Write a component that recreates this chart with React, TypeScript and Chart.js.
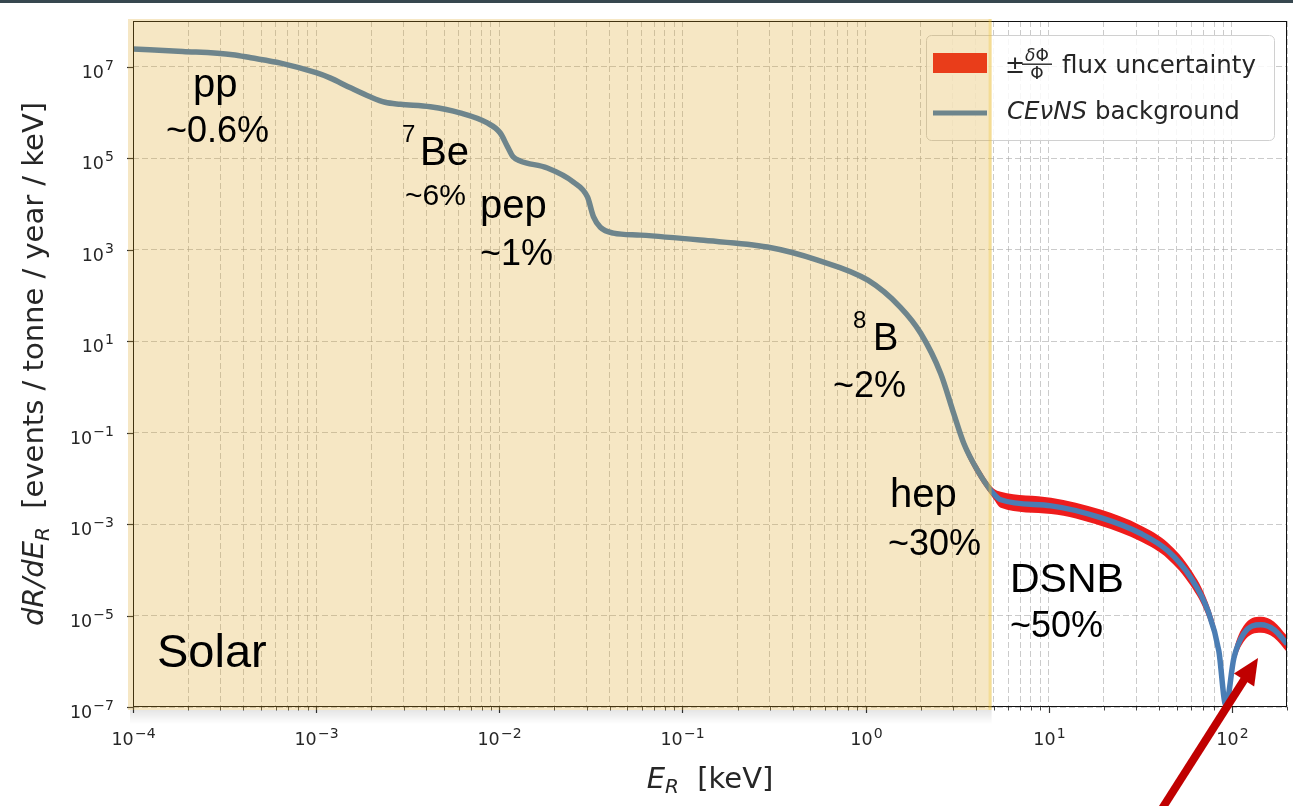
import React, { useEffect, useRef } from "react";
import { Chart, registerables } from "chart.js";

Chart.register(...registerables);

// Recoil energy grid (keV) and CEvNS background rate (events / tonne / year / keV)
const energies = [
  1.0e-4, 1.87e-4, 3.5e-4, 4.4e-4, 6.4e-4, 1.0e-3, 1.19e-3, 1.53e-3, 1.97e-3, 2.38e-3,
  2.88e-3, 4.2e-3, 6.1e-3, 8.6e-3, 1.01e-2, 1.11e-2, 1.19e-2, 1.3e-2, 1.83e-2, 2.54e-2,
  3.03e-2, 3.27e-2, 3.56e-2, 4.2e-2, 5.9e-2, 0.125, 0.291, 0.547, 1.03, 1.55,
  2.0, 2.57, 3.03, 3.44, 4.09, 5.0, 5.47, 10.3, 19.2, 31.8,
  44.7, 59.7, 74.0, 84.9, 92.7, 102.6, 116, 144, 170, 200,
];

const rates = [
  2.44e7, 2.16e7, 1.83e7, 1.57e7, 1.2e7, 7.4e6, 5.7e6, 3.5e6, 2.2e6, 1.67e6,
  1.51e6, 1.33e6, 9.8e5, 5.9e5, 3.6e5, 1.77e5, 1.07e5, 8.7e4, 6.1e4, 3.0e4,
  1.42e4, 5.2e3, 3.1e3, 2.3e3, 2.08e3, 1.62e3, 1.14e3, 590, 215, 55,
  14.9, 1.97, 0.26, 0.058, 0.0148, 4.6e-3, 3.4e-3, 2.5e-3, 1.38e-3, 6.2e-4,
  2.6e-4, 6.7e-5, 1.27e-5, 1.68e-6, 1.1e-7, 1.18e-6, 4.0e-6, 6.3e-6, 4.9e-6, 2.4e-6,
];

// Fractional flux uncertainty of the dominant source at each energy
// pp 0.6%, 7Be 6%, pep 1%, 8B 2%, hep 30%, DSNB 50%
const fluxUncertainty = [
  0.006, 0.006, 0.006, 0.006, 0.006, 0.006, 0.006, 0.006, 0.006, 0.06,
  0.06, 0.06, 0.06, 0.06, 0.06, 0.06, 0.06, 0.01, 0.01, 0.01,
  0.01, 0.01, 0.01, 0.02, 0.02, 0.02, 0.02, 0.02, 0.02, 0.02,
  0.02, 0.02, 0.3, 0.3, 0.3, 0.3, 0.5, 0.5, 0.5, 0.5,
  0.5, 0.5, 0.5, 0.5, 0.5, 0.5, 0.5, 0.5, 0.5, 0.5,
];

// Axis ranges and ticks
const X_MIN = 1e-4;
const X_MAX = 200;
const Y_MIN = 1e-7;
const Y_MAX = 1e8;
const SOLAR_EDGE_KEV = 5;
const xTickValues: number[] = [];
for (let n = -4; n <= 1; n++) for (let k = 1; k <= 9; k++) xTickValues.push(k * Math.pow(10, n));
xTickValues.push(100, 200);
const yTickExponents = [-7, -5, -3, -1, 1, 3, 5, 7];

// Source labels written on the plot
const sourceLabels = [
  { text: "pp", x: 193, y: 97, size: 40 },
  { text: "~0.6%", x: 166, y: 142, size: 36 },
  { text: "7", x: 402, y: 142, size: 24 },
  { text: "Be", x: 420, y: 165, size: 40 },
  { text: "~6%", x: 405, y: 205, size: 30 },
  { text: "pep", x: 480, y: 218, size: 40 },
  { text: "~1%", x: 480, y: 265, size: 36 },
  { text: "8", x: 853, y: 328, size: 24 },
  { text: "B", x: 873, y: 350, size: 38 },
  { text: "~2%", x: 833, y: 397, size: 36 },
  { text: "hep", x: 890, y: 507, size: 40 },
  { text: "~30%", x: 888, y: 555, size: 36 },
  { text: "DSNB", x: 1010, y: 592, size: 41 },
  { text: "~50%", x: 1010, y: 637, size: 36 },
  { text: "Solar", x: 157, y: 667, size: 47 },
];

const LINE_COLOR = "#4a7db4";
const BAND_COLOR = "#ee1c1c";
const GRID_COLOR = "rgba(160,160,160,0.55)";
const TEXT_COLOR = "#262626";
const DJV = '"DejaVu Sans"';
const SANS = '"Liberation Sans", Arial, sans-serif';

const pts = (ys: number[]) => energies.map((e, i) => ({ x: e, y: ys[i] }));
const upper = rates.map((r, i) => r * (1 + fluxUncertainty[i]));
const lower = rates.map((r, i) => r / (1 + fluxUncertainty[i]));

function drawParts(
  ctx: CanvasRenderingContext2D,
  parts: { t: string; font: string; dy: number }[],
  x: number,
  y: number,
  align: "center" | "right" | "left"
) {
  let total = 0;
  const widths = parts.map((p) => {
    ctx.font = p.font;
    const w = ctx.measureText(p.t).width;
    total += w;
    return w;
  });
  let cx = align === "center" ? x - total / 2 : align === "right" ? x - total : x;
  ctx.textAlign = "left";
  ctx.textBaseline = "alphabetic";
  parts.forEach((p, i) => {
    ctx.font = p.font;
    ctx.fillText(p.t, cx, y + p.dy);
    cx += widths[i];
  });
}

function powParts(exp: number) {
  const sup = exp < 0 ? "\u2212" + -exp : String(exp);
  return [
    { t: "10", font: `17.5px ${DJV}`, dy: 0 },
    { t: "\u2009", font: `6px ${DJV}`, dy: 0 },
    { t: sup, font: `14px ${DJV}`, dy: -7.5 },
  ];
}

const decorations = {
  id: "decorations",
  afterDraw(chart: any) {
    const { ctx, chartArea: a } = chart;
    const xs = chart.scales.x;
    const ys = chart.scales.y;
    ctx.save();

    // tick marks and labels
    ctx.strokeStyle = "#333";
    ctx.fillStyle = TEXT_COLOR;
    for (const t of xs.ticks) {
      const px = Math.round(xs.getPixelForValue(t.value)) + 0.5;
      const lg = Math.log10(t.value);
      const major = Math.abs(lg - Math.round(lg)) < 1e-9;
      ctx.lineWidth = major ? 1.2 : 0.9;
      ctx.beginPath();
      ctx.moveTo(px, a.bottom);
      ctx.lineTo(px, a.bottom + (major ? 6 : 3.5));
      ctx.stroke();
      if (major) drawParts(ctx, powParts(Math.round(lg)), px, a.bottom + 38, "center");
    }
    for (const t of ys.ticks) {
      const py = Math.round(ys.getPixelForValue(t.value)) + 0.5;
      ctx.lineWidth = 1.2;
      ctx.beginPath();
      ctx.moveTo(a.left - 6, py);
      ctx.lineTo(a.left, py);
      ctx.stroke();
      drawParts(ctx, powParts(Math.round(Math.log10(t.value))), a.left - 19, py + 10, "right");
    }

    // frame
    ctx.strokeStyle = "#111";
    ctx.lineWidth = 1;
    ctx.strokeRect(a.left + 0.5, a.top + 0.5, a.right - a.left - 1, a.bottom - a.top - 1);

    // axis titles
    ctx.fillStyle = TEXT_COLOR;
    drawParts(
      ctx,
      [
        { t: "E", font: `italic 29px ${DJV}`, dy: 0 },
        { t: "R", font: `italic 20px ${DJV}`, dy: 5 },
        { t: "  [keV]", font: `29px ${DJV}`, dy: 0 },
      ],
      (a.left + a.right) / 2,
      788,
      "center"
    );
    ctx.save();
    ctx.translate(43, (a.top + a.bottom) / 2);
    ctx.rotate(-Math.PI / 2);
    drawParts(
      ctx,
      [
        { t: "dR/dE", font: `italic 29px ${DJV}`, dy: 0 },
        { t: "R", font: `italic 20px ${DJV}`, dy: 6 },
        { t: "  [events / tonne / year / keV]", font: `29px ${DJV}`, dy: 0 },
      ],
      0,
      0,
      "center"
    );
    ctx.restore();

    // legend
    ctx.beginPath();
    ctx.roundRect(926.5, 35.5, 348, 105, 5);
    ctx.fillStyle = "rgba(255,255,255,0.85)";
    ctx.fill();
    ctx.strokeStyle = "#d0d0d0";
    ctx.lineWidth = 1;
    ctx.stroke();
    ctx.fillStyle = BAND_COLOR;
    ctx.fillRect(933, 53, 54, 20);
    ctx.strokeStyle = LINE_COLOR;
    ctx.lineWidth = 5;
    ctx.beginPath();
    ctx.moveTo(933, 113);
    ctx.lineTo(987, 113);
    ctx.stroke();
    ctx.fillStyle = TEXT_COLOR;
    ctx.textBaseline = "alphabetic";
    ctx.textAlign = "left";
    ctx.font = `24px ${DJV}`;
    ctx.fillText("\u00b1", 1005, 73);
    drawParts(
      ctx,
      [
        { t: "\u03b4", font: `italic 17px ${DJV}`, dy: 0 },
        { t: "\u03a6", font: `17px ${DJV}`, dy: 0 },
      ],
      1037,
      61,
      "center"
    );
    ctx.fillStyle = TEXT_COLOR;
    ctx.fillRect(1022, 63.5, 30, 1.4);
    ctx.font = `17px ${DJV}`;
    ctx.textAlign = "center";
    ctx.fillText("\u03a6", 1037, 79);
    ctx.textAlign = "left";
    ctx.font = `24.5px ${DJV}`;
    ctx.fillText("flux uncertainty", 1062, 73);
    drawParts(
      ctx,
      [
        { t: "CE\u03bdNS", font: `italic 24.5px ${DJV}`, dy: 0 },
        { t: " background", font: `24.5px ${DJV}`, dy: 0 },
      ],
      1007,
      119,
      "left"
    );

    // solar region shading
    const sx0 = xs.getPixelForValue(X_MIN) - 5;
    const sx1 = xs.getPixelForValue(SOLAR_EDGE_KEV) - 2;
    const sy0 = a.top - 2;
    const sy1 = a.bottom + 3;
    const sh = ctx.createLinearGradient(0, sy1, 0, sy1 + 14);
    sh.addColorStop(0, "rgba(0,0,0,0.10)");
    sh.addColorStop(1, "rgba(0,0,0,0)");
    ctx.fillStyle = sh;
    ctx.fillRect(sx0 + 2, sy1, sx1 - sx0 - 2, 14);
    ctx.fillStyle = "rgba(218,160,20,0.25)";
    ctx.fillRect(sx0, sy0, sx1 - sx0, sy1 - sy0);
    ctx.fillStyle = "rgba(240,200,60,0.35)";
    ctx.fillRect(sx1 - 3, sy0, 3, sy1 - sy0);

    // source labels
    ctx.fillStyle = "#000";
    ctx.textAlign = "left";
    ctx.textBaseline = "alphabetic";
    for (const l of sourceLabels) {
      ctx.font = `${l.size}px ${SANS}`;
      ctx.fillText(l.text, l.x, l.y);
    }

    // arrow pointing at the DSNB bump
    const tip = { x: 1258, y: 658 };
    const tail = { x: 1158, y: 815 };
    const dx = tip.x - tail.x;
    const dy = tip.y - tail.y;
    const len = Math.hypot(dx, dy);
    const ux = dx / len;
    const uy = dy / len;
    const headLen = 26;
    const headW = 12;
    const bx = tip.x - ux * headLen;
    const by = tip.y - uy * headLen;
    ctx.strokeStyle = "#c00000";
    ctx.fillStyle = "#c00000";
    ctx.lineWidth = 8;
    ctx.beginPath();
    ctx.moveTo(tail.x, tail.y);
    ctx.lineTo(bx + ux * 2, by + uy * 2);
    ctx.stroke();
    ctx.beginPath();
    ctx.moveTo(tip.x, tip.y);
    ctx.lineTo(bx - uy * headW, by + ux * headW);
    ctx.lineTo(bx + uy * headW, by - ux * headW);
    ctx.closePath();
    ctx.fill();

    // top bar
    ctx.fillStyle = "#37474f";
    ctx.fillRect(0, 0, chart.width, 3);
    ctx.restore();
  },
};

export default function App() {
  const ref = useRef<HTMLCanvasElement>(null);
  useEffect(() => {
    const canvas = ref.current!;
    const chart = new Chart(canvas, {
      type: "line",
      data: {
        datasets: [
          {
            label: "CEvNS background",
            data: pts(rates),
            borderColor: LINE_COLOR,
            borderWidth: 5.5,
            pointRadius: 0,
            fill: false,
            cubicInterpolationMode: "monotone",
          },
          {
            label: "flux uncertainty",
            data: pts(upper),
            borderWidth: 0,
            borderColor: "rgba(0,0,0,0)",
            backgroundColor: BAND_COLOR,
            pointRadius: 0,
            fill: "+1",
            cubicInterpolationMode: "monotone",
          },
          {
            label: "lower",
            data: pts(lower),
            borderWidth: 0,
            borderColor: "rgba(0,0,0,0)",
            pointRadius: 0,
            fill: false,
            cubicInterpolationMode: "monotone",
          },
        ],
      },
      options: {
        animation: false,
        responsive: false,
        maintainAspectRatio: false,
        events: [],
        layout: { padding: { top: 21, right: 6, left: 0, bottom: 0 } },
        plugins: { legend: { display: false }, tooltip: { enabled: false } },
        scales: {
          x: {
            type: "logarithmic",
            min: X_MIN,
            max: X_MAX,
            afterBuildTicks: (s: any) => {
              s.ticks = xTickValues.map((v) => ({ value: v }));
            },
            afterFit: (s: any) => {
              s.height = 99;
            },
            ticks: { display: false },
            grid: { color: GRID_COLOR, lineWidth: 1, drawTicks: false },
            border: { display: false, dash: [6, 3] },
          },
          y: {
            type: "logarithmic",
            min: Y_MIN,
            max: Y_MAX,
            afterBuildTicks: (s: any) => {
              s.ticks = yTickExponents.map((e) => ({ value: Math.pow(10, e) }));
            },
            afterFit: (s: any) => {
              s.width = 133;
            },
            ticks: { display: false },
            grid: { color: GRID_COLOR, lineWidth: 1, drawTicks: false },
            border: { display: false, dash: [6, 3] },
          },
        },
      } as any,
      plugins: [decorations],
    });
    return () => chart.destroy();
  }, []);
  return (
    <div style={{ position: "absolute", left: 0, top: 0, width: 1293, height: 806, background: "#fff" }}>
      <canvas ref={ref} width={1293} height={806} style={{ width: 1293, height: 806, display: "block" }} />
    </div>
  );
}
